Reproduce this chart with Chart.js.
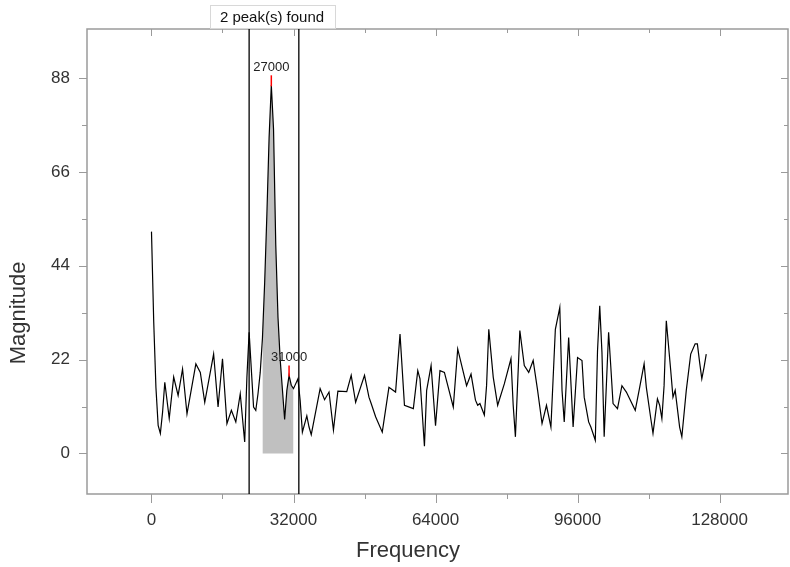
<!DOCTYPE html>
<html>
<head>
<meta charset="utf-8">
<script src="https://cdn.jsdelivr.net/npm/chart.js@4/dist/chart.umd.min.js"></script>
<style>
  body { margin: 0; background: #fff; }
</style>
</head>
<body>
<canvas id="fftChart" width="790" height="567"></canvas>
<script>
// spectrum (Hz, magnitude)
const frequency = [
  0, 500, 1000, 1500, 2000, 2500, 3000, 4000, 5000, 6000, 7000, 8000, 10000, 11000, 12000,
  14000, 15000, 16000, 17000, 18000, 19000, 20000, 21000, 21500, 22000, 23000, 23500, 24000,
  24500, 25000, 25500, 26000, 26500, 27000, 27500, 28000, 28500, 29000, 29500, 30000, 30500,
  31000, 31500, 32000, 33000, 33500, 34000, 35000, 35500, 36000, 38000, 39000, 40000, 41000,
  42000, 44000, 45000, 46000, 48000, 49000, 49500, 50500, 52000, 53500, 55000, 56000, 57000,
  59000, 60000, 60500, 61500, 62000, 63000, 64000, 65000, 66000, 68000, 69000, 70000, 71000,
  72000, 73000, 73500, 74000, 75000, 75500, 76000, 77000, 78000, 79500, 81000, 81500, 82000,
  83000, 84000, 85000, 86000, 87000, 88000, 89000, 90000, 91000, 92000, 92500, 93000, 94000,
  95000, 96000, 97000, 97500, 98500, 99000, 100000, 100500, 101000, 101500, 102000, 103000,
  103500, 104000, 105000, 106000, 107000, 109000, 110000, 111000, 111500, 112500, 113000,
  114000, 114500, 115000, 115500, 116000, 117000, 117500, 118000, 119000, 119500, 120500,
  121500, 122500, 123000, 123500, 124000, 124500, 125000
];
const magnitude = [
  52, 31, 15.5, 6.6, 4.7, 9.7, 16.7, 8.2, 17.9, 13.6, 19.8, 9.3, 21, 19, 12,
  23.3, 10.9, 22.2, 7, 10.1, 7.4, 14, 2.7, 17.9, 28.4, 10.9, 10.1, 14,
  19, 27, 40, 56, 74, 86.3, 76, 49, 32, 22, 15, 8, 14.8,
  18.3, 16, 15.2, 17.5, 12.4, 5, 8.8, 6.2, 4.4, 15.2, 12.6, 14.4, 5.5,
  14.6, 14.5, 18.3, 12, 18.3, 13.2, 11.7, 8.6, 5, 15.5, 14.4, 28, 11.3,
  10.5, 19.4, 17.5, 1.7, 14.8, 20.6, 6.5, 19.4, 19, 10.9, 24.5, 20.2, 15.9,
  18.6, 12.5, 11.3, 11.7, 9, 15.9, 29.1, 17.9, 11.3, 16.3, 22.2, 11.3, 3.9,
  28.8, 20.6, 19, 21.8, 14.8, 7, 11.3, 6.2, 29.1, 34.2, 14.8, 7.4, 27.2,
  6.2, 22.5, 21.8, 13.2, 7.4, 6.2, 3.1, 24.1, 34.6, 23.7, 3.9, 28.4,
  20.2, 11.7, 10.5, 15.9, 14.4, 10.1, 15.5, 21, 15.5, 8.2, 4.7,
  12.8, 11.3, 8.2, 15.9, 31.1, 19.4, 13.2, 14.8, 6.2, 3.9, 14.8,
  23.3, 25.7, 25.7, 21.4, 17.5, 20.2, 23.3
];

const areaRange = [25000, 32000];
const limitLines = [22000, 33200];
const peakFreq = [27000, 31000];
const peakLabels = ['27000', '31000'];
const xTickValues = [0, 16000, 32000, 48000, 64000, 80000, 96000, 112000, 128000];
const xLabels = [0, 32000, 64000, 96000, 128000];
const yTickValues = [0, 11, 22, 33, 44, 55, 66, 77, 88];
const yLabels = [0, 22, 44, 66, 88];

const points = frequency.map((f, i) => ({ x: f, y: magnitude[i] }));
const areaPoints = points.filter(p => p.x >= areaRange[0] && p.x <= areaRange[1]);

const frame = {
  id: 'frame',
  afterDraw(chart) {
    const { ctx, chartArea: { left, right, top, bottom }, scales: { x, y } } = chart;
    ctx.save();
    ctx.strokeStyle = '#9a9a9a';
    ctx.lineWidth = 1.5;
    ctx.strokeRect(left, top, right - left, bottom - top);

    ctx.lineWidth = 1;
    x.ticks.forEach(t => {
      const px = Math.round(x.getPixelForValue(t.value)) + 0.5;
      const major = xLabels.includes(t.value);
      ctx.beginPath();
      ctx.moveTo(px, bottom); ctx.lineTo(px, bottom + (major ? 9 : 5));
      ctx.moveTo(px, top); ctx.lineTo(px, top + (major ? 7 : 4));
      ctx.stroke();
    });
    y.ticks.forEach(t => {
      const py = Math.round(y.getPixelForValue(t.value)) + 0.5;
      const major = yLabels.includes(t.value);
      ctx.beginPath();
      ctx.moveTo(left, py); ctx.lineTo(left - (major ? 8 : 5), py);
      ctx.moveTo(right, py); ctx.lineTo(right - (major ? 7 : 4), py);
      ctx.stroke();
    });

    // integration limits
    ctx.strokeStyle = '#000';
    ctx.lineWidth = 1.3;
    limitLines.forEach(v => {
      const px = x.getPixelForValue(v);
      ctx.beginPath();
      ctx.moveTo(px, top); ctx.lineTo(px, bottom);
      ctx.stroke();
    });

    // peak markers + labels
    ctx.font = '13px Arial, "Liberation Sans"';
    ctx.textAlign = 'center';
    ctx.textBaseline = 'middle';
    peakFreq.forEach((f, i) => {
      const px = x.getPixelForValue(f);
      const py = y.getPixelForValue(magnitude[frequency.indexOf(f)]);
      ctx.strokeStyle = '#ff0000';
      ctx.lineWidth = 1.5;
      ctx.beginPath();
      ctx.moveTo(px, py - 10); ctx.lineTo(px, py + 1);
      ctx.stroke();
      ctx.fillStyle = '#222';
      ctx.fillText(peakLabels[i], px, py - 18);
    });

    // axis titles
    ctx.fillStyle = '#333';
    ctx.font = '22px Arial, "Liberation Sans"';
    ctx.fillText('Frequency', 408, 551);
    ctx.save();
    ctx.translate(19, 313);
    ctx.rotate(-Math.PI / 2);
    ctx.fillText('Magnitude', 0, 0);
    ctx.restore();

    // status box
    ctx.fillStyle = '#fff';
    ctx.fillRect(210, 6, 125, 23);
    ctx.strokeStyle = '#d8d8d8';
    ctx.lineWidth = 1;
    ctx.strokeRect(210.5, 5.5, 125, 23);
    ctx.fillStyle = '#111';
    ctx.font = '15px Arial, "Liberation Sans"';
    ctx.fillText('2 peak(s) found', 272, 18);
    ctx.restore();
  }
};

new Chart(document.getElementById('fftChart').getContext('2d'), {
  type: 'line',
  data: {
    datasets: [
      {
        data: points,
        borderColor: '#000',
        borderWidth: 1.2,
        pointRadius: 0,
        tension: 0,
        fill: false
      },
      {
        data: areaPoints,
        borderWidth: 0,
        borderColor: 'rgba(0,0,0,0)',
        backgroundColor: '#c0c0c0',
        pointRadius: 0,
        tension: 0,
        fill: 'origin'
      }
    ]
  },
  options: {
    responsive: false,
    animation: false,
    devicePixelRatio: 1,
    layout: { padding: { top: 29, right: 2, left: 0, bottom: 0 } },
    plugins: {
      legend: { display: false },
      tooltip: { enabled: false }
    },
    scales: {
      x: {
        type: 'linear',
        min: -14530,
        max: 143420,
        afterFit(s) { s.height = 73; },
        afterBuildTicks(s) { s.ticks = xTickValues.map(v => ({ value: v })); },
        grid: { display: false, drawTicks: true, tickLength: 10 },
        border: { display: false },
        ticks: {
          autoSkip: false,
          maxRotation: 0,
          padding: 6,
          color: '#333',
          font: { family: 'Arial, "Liberation Sans"', size: 17 },
          callback: v => xLabels.includes(v) ? String(v) : ''
        }
      },
      y: {
        type: 'linear',
        min: -9.5,
        max: 99.5,
        afterFit(s) { s.width = 87; },
        afterBuildTicks(s) { s.ticks = yTickValues.map(v => ({ value: v })); },
        grid: { display: false, drawTicks: true, tickLength: 8 },
        border: { display: false },
        ticks: {
          autoSkip: false,
          padding: 9,
          color: '#333',
          font: { family: 'Arial, "Liberation Sans"', size: 17 },
          callback: v => yLabels.includes(v) ? String(v) : ''
        }
      }
    }
  },
  plugins: [frame]
});
</script>
</body>
</html>
